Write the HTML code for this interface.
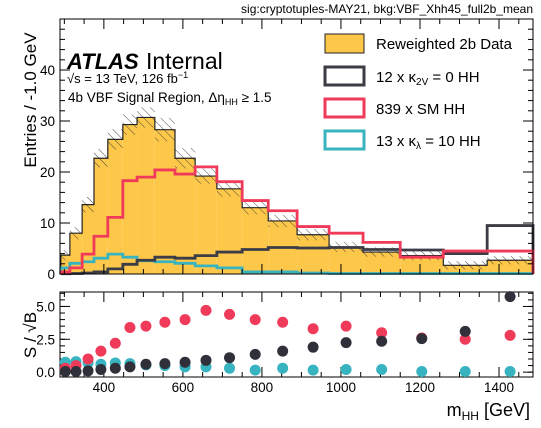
<!DOCTYPE html>
<html><head><meta charset="utf-8">
<style>
body{margin:0;background:#fff;}
svg{display:block;font-family:"Liberation Sans",Arial,sans-serif;}
</style></head>
<body>
<svg id="c" width="541" height="428" viewBox="0 0 541 428" xmlns="http://www.w3.org/2000/svg">
<defs>
<pattern id="hatch" patternUnits="userSpaceOnUse" width="6" height="6" patternTransform="rotate(-45)">
<line x1="0" y1="0" x2="0" y2="6" stroke="#333" stroke-width="0.9"/>
</pattern>
</defs>
<text x="533" y="13" font-size="12" text-anchor="end">sig:cryptotuples-MAY21, bkg:VBF_Xhh45_full2b_mean</text>
<g id="upper"></g>
<g id="lower"></g>
<text transform="translate(36,100) rotate(-90)" font-size="17" text-anchor="middle">Entries / -1.0 GeV</text>
<text transform="translate(36,335) rotate(-90)" font-size="17" text-anchor="middle">S / √B</text>
<text x="530" y="416" font-size="18" text-anchor="end">m<tspan font-size="12" dy="4">HH</tspan><tspan dy="-4"> [GeV]</tspan></text>
<g>
<text x="67" y="69" font-size="22" font-weight="bold" font-style="italic">ATLAS</text>
<text x="146" y="69" font-size="23">Internal</text>
<text x="67" y="83" font-size="13">√s = 13 TeV, 126 fb<tspan font-size="9" dy="-5">−1</tspan></text>
<text x="68" y="102" font-size="13.5">4b VBF Signal Region, Δη<tspan font-size="9" dy="3">HH</tspan><tspan dy="-3"> ≥ 1.5</tspan></text>
</g>
<g>
<g><rect x="325" y="34" width="39" height="19" fill="#fdc84a" stroke="#222" stroke-width="1"/><text x="376" y="49" font-size="15">Reweighted 2b Data</text></g>
<g><rect x="325" y="67" width="39" height="18" fill="#fff" stroke="#3b3c45" stroke-width="3"/><text x="376" y="82" font-size="15">12 x κ<tspan font-size="10" dy="3">2V</tspan><tspan dy="-3"> = 0 HH</tspan></text></g>
<g><rect x="325" y="99" width="39" height="18" fill="#fff" stroke="#f03a5a" stroke-width="3"/><text x="376" y="114" font-size="15">839 x SM HH</text></g>
<g><rect x="325" y="131" width="39" height="18" fill="#fff" stroke="#38b4c0" stroke-width="3"/><text x="376" y="146" font-size="15">13 x κ<tspan font-size="10" dy="3">λ</tspan><tspan dy="-3"> = 10 HH</tspan></text></g>
</g>
</svg>
<script>
const binEdges=[291,314,345,375,410,448,484,529,580,631,686,750,816,889,970,1056,1150,1259,1370,1486];
const bkgValues=[3.7,8.0,13.6,22.7,26.4,29.3,30.7,28.3,22.7,19.2,16.7,13.0,10.4,7.7,5.3,4.3,3.6,1.7,2.7];
const bkgErrors=[1.0,1.2,1.5,1.8,2.0,2.0,2.0,2.3,2.0,1.5,1.5,1.3,1.2,1.1,1.0,0.9,0.9,0.8,0.8];
const k2vValues=[0.05,0.1,0.2,0.4,1.0,1.9,2.7,3.3,3.1,3.6,4.3,4.8,5.2,5.1,5.2,4.8,4.7,4.0,9.5];
const smValues=[0.4,1.2,3.9,7.4,11.1,18.3,19.0,20.4,19.6,21.0,18.1,14.4,12.4,9.3,8.0,6.2,3.3,4.5,4.5];
const klValues=[1.2,2.1,2.4,3.1,3.9,3.3,2.6,2.4,2.1,1.6,1.2,0.4,0.4,0.2,0.1,0.1,0.1,0.1,0.1];
const sigSM=[0.3,0.5,1.0,1.6,2.2,3.4,3.5,3.8,4.0,4.7,4.4,4.0,3.8,3.3,3.5,3.0,2.6,2.5,2.8];
const sigK2V=[0.05,0.05,0.1,0.2,0.3,0.4,0.6,0.65,0.75,0.9,1.1,1.35,1.6,1.9,2.25,2.35,2.55,3.1,5.75];
const sigKL=[0.75,0.8,0.7,0.6,0.7,0.65,0.55,0.5,0.4,0.4,0.3,0.15,0.3,0.15,0.2,0.2,0.05,0.05,0.05];
const xTickLabels=[400,600,800,1000,1200,1400];
const yTickLabels=[0,10,20,30,40];
const rTickLabels=[0.0,2.5,5.0];

const NS="http://www.w3.org/2000/svg";
const X0=60,X1=533,XMIN=289,XMAX=1486;
const sx=v=>X0+(v-XMIN)/(XMAX-XMIN)*(X1-X0);
const UT=19,UB=274,YMAX=50;
const sy=v=>UB-v/YMAX*(UB-UT);
const LT=292,LB=377,RMIN=-0.37,RMAX=6.1;
const sr=v=>LB-(v-RMIN)/(RMAX-RMIN)*(LB-LT);
function mk(parent,tag,attrs){const e=document.createElementNS(NS,tag);for(const k in attrs)e.setAttribute(k,attrs[k]);parent.appendChild(e);return e;}
const up=document.getElementById('upper'),lo=document.getElementById('lower');

for(let i=0;i<bkgValues.length;i++){
  const r=mk(up,'rect',{x:sx(binEdges[i]),y:sy(bkgValues[i]),width:sx(binEdges[i+1])-sx(binEdges[i]),height:UB-sy(bkgValues[i]),fill:'#fdc84a'});
  
  
  const h=mk(up,'rect',{x:sx(binEdges[i]),y:sy(bkgValues[i]+bkgErrors[i]),width:sx(binEdges[i+1])-sx(binEdges[i]),height:sy(bkgValues[i]-bkgErrors[i])-sy(bkgValues[i]+bkgErrors[i]),fill:'url(#hatch)'});
  
  
}
function stepPath(vals){let d='M'+sx(binEdges[0])+','+UB;for(let i=0;i<vals.length;i++){d+=' L'+sx(binEdges[i])+','+sy(vals[i])+' L'+sx(binEdges[i+1])+','+sy(vals[i]);}d+=' L'+sx(binEdges[vals.length])+','+UB;return d;}
const bo=mk(up,'path',{d:stepPath(bkgValues),fill:'none',stroke:'#222','stroke-width':1.2});


const series=[[klValues,'#38b4c0','kl10-histogram'],[k2vValues,'#3b3c45','k2v0-histogram'],[smValues,'#f03a5a','sm-histogram']];
series.forEach(s=>{const p=mk(up,'path',{d:stepPath(s[0]),fill:'none',stroke:s[1],'stroke-width':2.8});
  
  });

function frame(g,top,bot,ymaj,ymin,ylab,yfn,fmt){
  mk(g,'rect',{x:X0,y:top,width:X1-X0,height:bot-top,fill:'none',stroke:'#000','stroke-width':1});
  for(let v=300;v<=XMAX;v+=50){const maj=v%200==0;const L=maj?10:5;
    mk(g,'line',{x1:sx(v),x2:sx(v),y1:bot,y2:bot-L,stroke:'#000'});
    mk(g,'line',{x1:sx(v),x2:sx(v),y1:top,y2:top+L,stroke:'#000'});}
  ymin.forEach(v=>{const y=yfn(v);if(y<top||y>bot)return;mk(g,'line',{x1:X0,x2:X0+5,y1:y,y2:y,stroke:'#000'});mk(g,'line',{x1:X1,x2:X1-5,y1:y,y2:y,stroke:'#000'});});
  ymaj.forEach(v=>{const y=yfn(v);mk(g,'line',{x1:X0,x2:X0+10,y1:y,y2:y,stroke:'#000'});mk(g,'line',{x1:X1,x2:X1-10,y1:y,y2:y,stroke:'#000'});});
  ylab.forEach(v=>{const t=mk(g,'text',{x:X0-5,y:yfn(v)+5,'font-size':13.5,'text-anchor':'end'});t.textContent=fmt(v);
    
    });
}
const uMin=[];for(let v=0;v<=50;v+=2)uMin.push(v);
frame(up,UT,UB,[0,10,20,30,40,50],uMin,yTickLabels,sy,v=>String(v));
const rMin=[];for(let v=0;v<=6;v+=0.5)rMin.push(v);
frame(lo,LT,LB,[0,2.5,5],rMin,rTickLabels,sr,v=>v.toFixed(1));
xTickLabels.forEach(v=>{const t=mk(lo,'text',{x:sx(v),y:LB+15,'font-size':13.5,'text-anchor':'middle'});t.textContent=v;
  
  });

const pts=[[sigKL,'#38b4c0','kl10-significance-point'],[sigSM,'#f03a5a','sm-significance-point'],[sigK2V,'#2f303a','k2v0-significance-point']];
pts.forEach(s=>{s[0].forEach((v,i)=>{const c=mk(lo,'circle',{cx:sx((binEdges[i]+binEdges[i+1])/2),cy:sr(v),r:5.5,fill:s[1]});
  
  });});
</script>
</body></html>
